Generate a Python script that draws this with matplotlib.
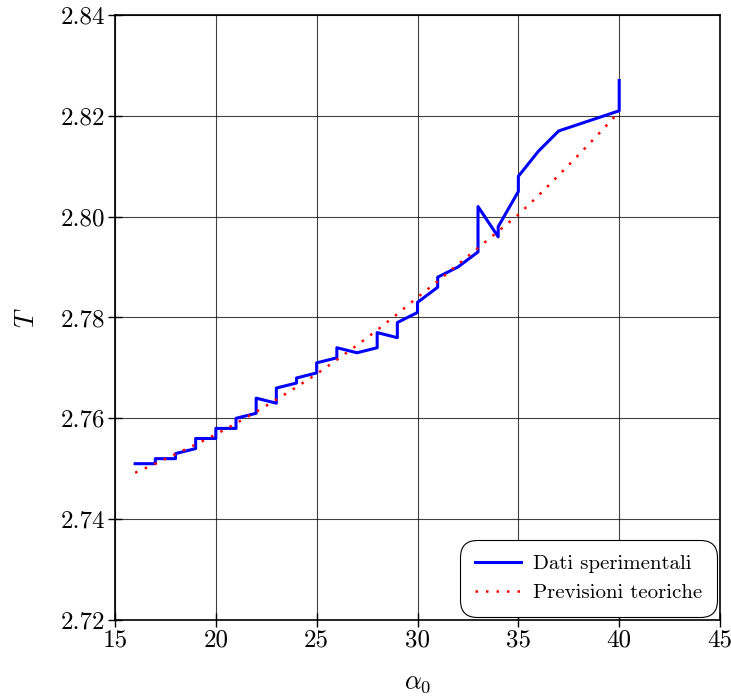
import matplotlib
matplotlib.use("Agg")
import matplotlib.pyplot as plt

# ── dati ──────────────────────────────────────────────────────────
# misure (coppie prima/dopo ogni gradino)
alpha_exp = [16, 17, 17, 18, 18, 19, 19, 20, 20, 21, 21, 22, 22, 23, 23, 24, 24,
             25, 25, 26, 26, 27, 28, 28, 29, 29, 30, 30, 31, 31, 32, 33, 33, 34,
             34, 35, 35, 36, 37, 40, 40]
T_exp = [2.751, 2.751, 2.752, 2.752, 2.753, 2.754, 2.756, 2.756, 2.758, 2.758,
         2.760, 2.761, 2.764, 2.763, 2.766, 2.767, 2.768, 2.769, 2.771, 2.772,
         2.774, 2.773, 2.774, 2.777, 2.776, 2.779, 2.781, 2.783, 2.786, 2.788,
         2.790, 2.793, 2.802, 2.796, 2.798, 2.805, 2.808, 2.813, 2.817, 2.821,
         2.827]

# previsioni teoriche
alpha_th = list(range(16, 41))
T_th = [2.7492, 2.7510, 2.7529, 2.7548, 2.7568, 2.7590, 2.7613, 2.7637,
        2.7662, 2.7688, 2.7716, 2.7745, 2.7775, 2.7807, 2.7840, 2.7872,
        2.7905, 2.7938, 2.7971, 2.8004, 2.8042, 2.8082, 2.8123, 2.8165,
        2.8208]

x_ticks = [15, 20, 25, 30, 35, 40, 45]
y_ticks = [2.72, 2.74, 2.76, 2.78, 2.80, 2.82, 2.84]

# ── stile ─────────────────────────────────────────────────────────
plt.rcParams['font.family'] = 'serif'
plt.rcParams['font.serif'] = ['cmr10', 'DejaVu Serif']
plt.rcParams['mathtext.fontset'] = 'cm'
plt.rcParams['axes.unicode_minus'] = False

fig = plt.figure(figsize=(7.31, 6.97), dpi=100)
ax = fig.add_axes([0.1573, 0.1105, 0.8277, 0.868])

ax.plot(alpha_exp, T_exp, color='blue', linewidth=2.2, label='Dati sperimentali')
ax.plot(alpha_th, T_th, color='red', linewidth=1.8, linestyle=(0, (1, 3.2)),
        label='Previsioni teoriche')

ax.set_xlim(15, 45)
ax.set_ylim(2.72, 2.84)
ax.set_xticks(x_ticks)
ax.set_yticks(y_ticks)
ax.set_xticklabels([str(v) for v in x_ticks])
ax.set_yticklabels([f'{v:.2f}' for v in y_ticks])
ax.tick_params(direction='inout', length=10, width=1, labelsize=18, pad=2)
for s in ax.spines.values():
    s.set_linewidth(1.2)

ax.grid(True, color='black', linewidth=0.8, alpha=0.75)
ax.set_axisbelow(True)

ax.set_xlabel(r'$\alpha_0$', fontsize=19, labelpad=14)
ax.set_ylabel(r'$T$', fontsize=19, labelpad=16)

leg = ax.legend(loc='lower right', fontsize=15, frameon=True, fancybox=True,
                framealpha=1, edgecolor='black', borderpad=0.5,
                handlelength=2.2, handletextpad=0.6, borderaxespad=0.35)
leg.get_frame().set_linewidth(0.8)
leg.get_frame().set_boxstyle('round', pad=0.2, rounding_size=0.8)

fig.savefig('out.png', dpi=100)
